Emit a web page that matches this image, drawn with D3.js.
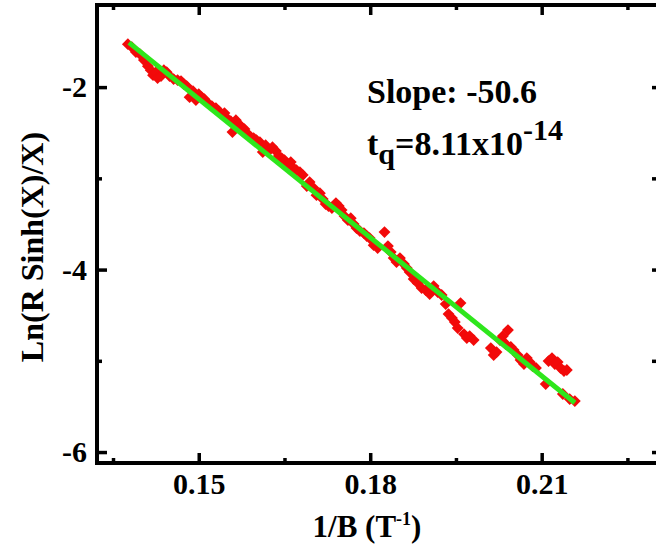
<!DOCTYPE html>
<html>
<head>
<meta charset="utf-8">
<script src="https://cdn.jsdelivr.net/npm/d3@7"></script>
<style>
  body { margin: 0; background: #fff; }
  text { font-family: "Liberation Serif", "Times New Roman", serif; font-weight: bold; }
</style>
</head>
<body>
<div id="chart"></div>
<script>
// data: 1/B (T^-1) and Ln(R Sinh(X)/X)
var invB = [0.1376,0.1383,0.1390,0.1397,0.1404,0.1411,0.1416,0.1420,0.1425,0.1428,
  0.1434,0.1439,0.1444,0.1449,0.1456,0.1463,0.1469,0.1474,0.1479,0.1484,
  0.1490,0.1495,0.1500,0.1505,0.1510,0.1516,0.1523,0.1530,0.1535,0.1540,
  0.1545,0.1551,0.1556,0.1559,0.1565,0.1570,0.1575,0.1580,0.1586,0.1591,
  0.1596,0.1601,0.1607,0.1612,0.1617,0.1624,0.1629,0.1635,0.1640,0.1645,
  0.1650,0.1656,0.1661,0.1666,0.1671,0.1677,0.1682,0.1689,0.1694,0.1701,
  0.1706,0.1712,0.1717,0.1722,0.1727,0.1733,0.1740,0.1745,0.1750,0.1755,
  0.1761,0.1766,0.1771,0.1776,0.1782,0.1789,0.1794,0.1799,0.1806,0.1813,
  0.1825,0.1831,0.1836,0.1841,0.1846,0.1852,0.1859,0.1864,0.1869,0.1876,
  0.1883,0.1890,0.1897,0.1904,0.1911,0.1918,0.1925,0.1932,0.1937,0.1943,
  0.1948,0.1953,0.1958,0.1964,0.1969,0.1974,0.1981,0.2011,0.2016,0.2021,
  0.2027,0.2032,0.2037,0.2041,0.2046,0.2051,0.2058,0.2063,0.2069,0.2074,
  0.2079,0.2084,0.2090,0.2107,0.2112,0.2118,0.2123,0.2128,0.2133,0.2139,
  0.2144,0.2137,0.2158,0.2149];
var lnR = [-1.529,-1.562,-1.616,-1.638,-1.704,-1.770,-1.814,-1.869,-1.836,-1.901,
  -1.879,-1.814,-1.836,-1.879,-1.912,-1.923,-1.934,-1.967,-1.989,-2.110,
  -2.044,-2.142,-2.077,-2.110,-2.132,-2.175,-2.208,-2.230,-2.263,-2.296,
  -2.285,-2.351,-2.373,-2.493,-2.362,-2.405,-2.438,-2.460,-2.515,-2.548,
  -2.559,-2.581,-2.603,-2.712,-2.636,-2.690,-2.658,-2.701,-2.756,-2.778,
  -2.800,-2.844,-2.822,-2.888,-2.910,-2.932,-2.964,-3.085,-3.041,-3.107,
  -3.184,-3.162,-3.227,-3.282,-3.304,-3.326,-3.271,-3.304,-3.348,-3.414,
  -3.458,-3.436,-3.501,-3.545,-3.578,-3.600,-3.633,-3.655,-3.732,-3.764,
  -3.589,-3.742,-3.808,-3.874,-3.918,-3.874,-3.940,-3.984,-4.027,-4.104,
  -4.148,-4.203,-4.225,-4.268,-4.181,-4.247,-4.279,-4.378,-4.488,-4.532,
  -4.575,-4.641,-4.367,-4.707,-4.751,-4.729,-4.773,-4.860,-4.937,-4.904,
  -4.773,-4.729,-4.816,-4.663,-4.849,-4.882,-4.937,-4.992,-5.036,-4.970,
  -5.014,-5.058,-5.079,-5.255,-5.003,-4.970,-5.036,-5.014,-5.079,-5.112,
  -5.101,-5.364,-5.441,-5.419];

// linear fit
var fitX = [0.1378, 0.2158];
var fitSlope = -50.6, fitIntercept = 5.46;

var xMajor = [0.15, 0.18, 0.21];
var xMinor = [0.135, 0.165, 0.195, 0.225];
var yMajor = [-2, -4, -6];
var yMinor = [-3, -5];

var W = 656, H = 550;
var svg = d3.select("#chart").append("svg")
    .attr("width", W).attr("height", H);

var x = d3.scaleLinear().domain([0.1322, 0.2307]).range([97, 660]);
var y = d3.scaleLinear().domain([-6.12, -1.10]).range([463, 5]);

// points
var pts = invB.map(function(v, i) { return {x: v, y: lnR[i]}; });
svg.append("g").selectAll("path")
    .data(pts)
    .enter().append("path")
    .attr("d", d3.symbol().type(d3.symbolSquare).size(70))
    .attr("transform", function(d) { return "translate(" + x(d.x) + "," + y(d.y) + ") rotate(45)"; })
    .style("fill", "#f20a0a");

// fit line
var line = d3.line()
    .x(function(d) { return x(d); })
    .y(function(d) { return y(fitIntercept + fitSlope * d); });
svg.append("path")
    .datum(fitX)
    .attr("d", line)
    .style("fill", "none")
    .style("stroke", "#2ee61c")
    .style("stroke-width", 5);

// axes (inward ticks)
function styleAxis(g) {
  g.select(".domain").remove();
  g.selectAll(".tick line").style("stroke", "#000").style("stroke-width", 3.5);
  g.selectAll("text").style("font-size", "30px").style("fill", "#000");
}

svg.append("g").attr("transform", "translate(0,463)")
    .call(d3.axisBottom(x).tickValues(xMajor).tickSize(-10).tickPadding(10).tickFormat(d3.format(".2f")))
    .call(styleAxis);
svg.append("g").attr("transform", "translate(0,463)")
    .call(d3.axisBottom(x).tickValues(xMinor).tickSize(-5).tickFormat(""))
    .call(styleAxis);
svg.append("g").attr("transform", "translate(0,5)")
    .call(d3.axisTop(x).tickValues(xMajor).tickSize(-10).tickFormat(""))
    .call(styleAxis);
svg.append("g").attr("transform", "translate(0,5)")
    .call(d3.axisTop(x).tickValues(xMinor).tickSize(-5).tickFormat(""))
    .call(styleAxis);

svg.append("g").attr("transform", "translate(97,0)")
    .call(d3.axisLeft(y).tickValues(yMajor).tickSize(-10).tickPadding(10)
      .tickFormat(function(d) { return String(d); }))
    .call(styleAxis);
svg.append("g").attr("transform", "translate(97,0)")
    .call(d3.axisLeft(y).tickValues(yMinor).tickSize(-5).tickFormat(""))
    .call(styleAxis);
svg.append("g").attr("transform", "translate(660,0)")
    .call(d3.axisRight(y).tickValues(yMajor.concat(yMinor)).tickSize(-8).tickFormat(""))
    .call(styleAxis);

// frame
svg.append("rect")
    .attr("x", x.range()[0]).attr("y", y.range()[1])
    .attr("width", x.range()[1] - x.range()[0])
    .attr("height", y.range()[0] - y.range()[1])
    .style("fill", "none")
    .style("stroke", "#000")
    .style("stroke-width", 4);

// axis titles
var xt = svg.append("text")
    .attr("x", 367).attr("y", 537)
    .attr("text-anchor", "middle")
    .style("font-size", "31px");
xt.append("tspan").text("1/B (T");
xt.append("tspan").attr("dy", -12).style("font-size", "18px").text("-1");
xt.append("tspan").attr("dy", 12).text(")");

svg.append("text")
    .attr("transform", "translate(43,247) rotate(-90)")
    .attr("text-anchor", "middle")
    .style("font-size", "32px")
    .text("Ln(R Sinh(X)/X)");

// annotations
svg.append("text")
    .attr("x", 367).attr("y", 103)
    .style("font-size", "34px")
    .text("Slope: -50.6");

var tq = svg.append("text")
    .attr("x", 367).attr("y", 155)
    .style("font-size", "34px");
tq.append("tspan").text("t");
tq.append("tspan").attr("dy", 9).style("font-size", "30px").text("q");
tq.append("tspan").attr("dy", -9).text("=8.11x10");
tq.append("tspan").attr("dy", -15).style("font-size", "30px").text("-14");
</script>
</body>
</html>
